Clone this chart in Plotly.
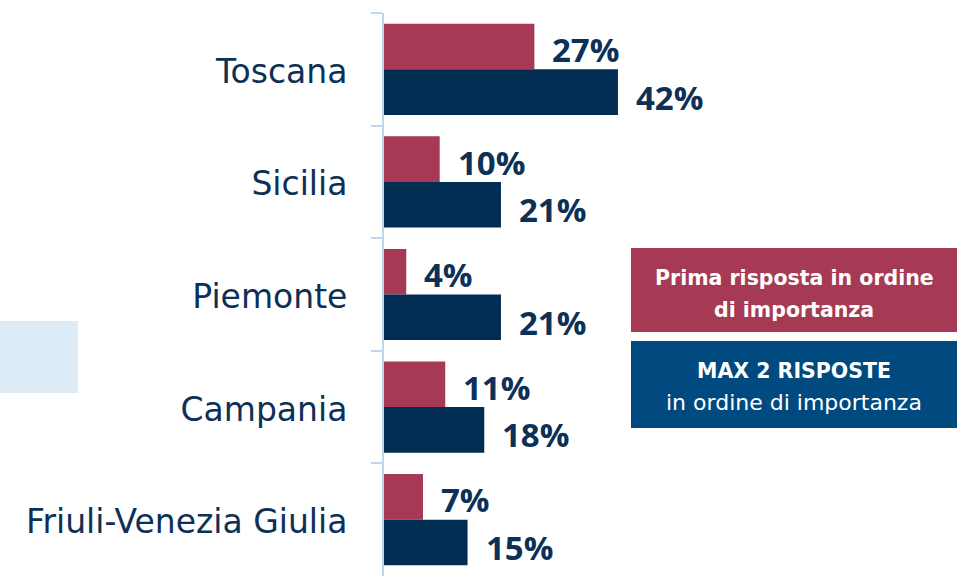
import plotly.graph_objects as go

regions = ["Toscana", "Sicilia", "Piemonte", "Campania", "Friuli-Venezia Giulia"]
prima_risposta = [27, 10, 4, 11, 7]
max_due_risposte = [42, 21, 21, 18, 15]
legend_lines = [
    ["<b>Prima risposta in ordine</b>", "<b>di importanza</b>"],
    ["<b>MAX 2 RISPOSTE</b>", "in ordine di importanza"],
]

RED = "#A63A55"
NAVY = "#022D52"
BLUE_BOX = "#004A80"
TEXT = "#0D3057"
AXIS = "#BDD7EE"

W, H = 961, 578
ML, MR, MT, MB = 384, 0, 13, 2
PW, PH = W - ML - MR, H - MT - MB
PX_PER_UNIT = 5.57


def px(x):
    return (x - ML) / PW


def py(y):
    return (H - MB - y) / PH


fig = go.Figure()
fig.add_trace(go.Bar(y=regions, x=prima_risposta, orientation="h",
                     marker=dict(color=RED, line=dict(width=0)), hoverinfo="skip"))
fig.add_trace(go.Bar(y=regions, x=max_due_risposte, orientation="h",
                     marker=dict(color=NAVY, line=dict(width=0)), hoverinfo="skip"))

# value labels beside each bar
half = 0.405 / 2
for i, (a, b) in enumerate(zip(prima_risposta, max_due_risposte)):
    for val, off, ys in ((a, -half, -3), (b, half, -5)):
        fig.add_annotation(x=val, y=i + off, xref="x", yref="y", text=f"<b>{val}%</b>",
                           showarrow=False, xanchor="left", yanchor="middle",
                           xshift=16, yshift=ys,
                           font=dict(family="Open Sans", size=33, color=TEXT))

# legend boxes, two text lines each
boxes = [(631, 248, 957, 332, RED), (631, 341, 957, 428, BLUE_BOX)]
line_centres = [(278, 310), (371, 403)]
line_sizes = [(20.5, 20.5), (20.5, 22)]
for (x0, y0, x1, y1, c), lines, ys, sizes in zip(boxes, legend_lines, line_centres, line_sizes):
    fig.add_shape(type="rect", xref="paper", yref="paper",
                  x0=px(x0), x1=px(x1), y0=py(y1), y1=py(y0),
                  fillcolor=c, line=dict(width=0), layer="above")
    for line, yc, sz in zip(lines, ys, sizes):
        fig.add_annotation(xref="paper", yref="paper", x=px((x0 + x1) / 2),
                           y=py(yc), text=line, showarrow=False,
                           xanchor="center", yanchor="middle", align="center",
                           font=dict(family="DejaVu Sans", size=sz, color="white"))

# pale side panel
fig.add_shape(type="rect", xref="paper", yref="paper",
              x0=px(0), x1=px(78), y0=py(393), y1=py(321),
              fillcolor="#DDEBF7", line=dict(width=0), layer="below")

fig.update_layout(
    width=W, height=H, margin=dict(l=ML, r=MR, t=MT, b=MB),
    barmode="group", bargap=0.19, bargroupgap=0,
    plot_bgcolor="white", paper_bgcolor="white", showlegend=False,
    xaxis=dict(range=[0, PW / PX_PER_UNIT], visible=False, fixedrange=True),
    yaxis=dict(type="category", categoryorder="array", categoryarray=regions,
               autorange="reversed", showline=True, linecolor=AXIS, linewidth=2,
               ticks="outside", tickson="boundaries", ticklen=11, tickwidth=2,
               tickcolor=AXIS, ticklabelstandoff=28, ticklabelshift=-2,
               showgrid=False, zeroline=False,
               tickfont=dict(family="DejaVu Sans", size=33, color=TEXT)),
)

fig.write_html("out.html")
